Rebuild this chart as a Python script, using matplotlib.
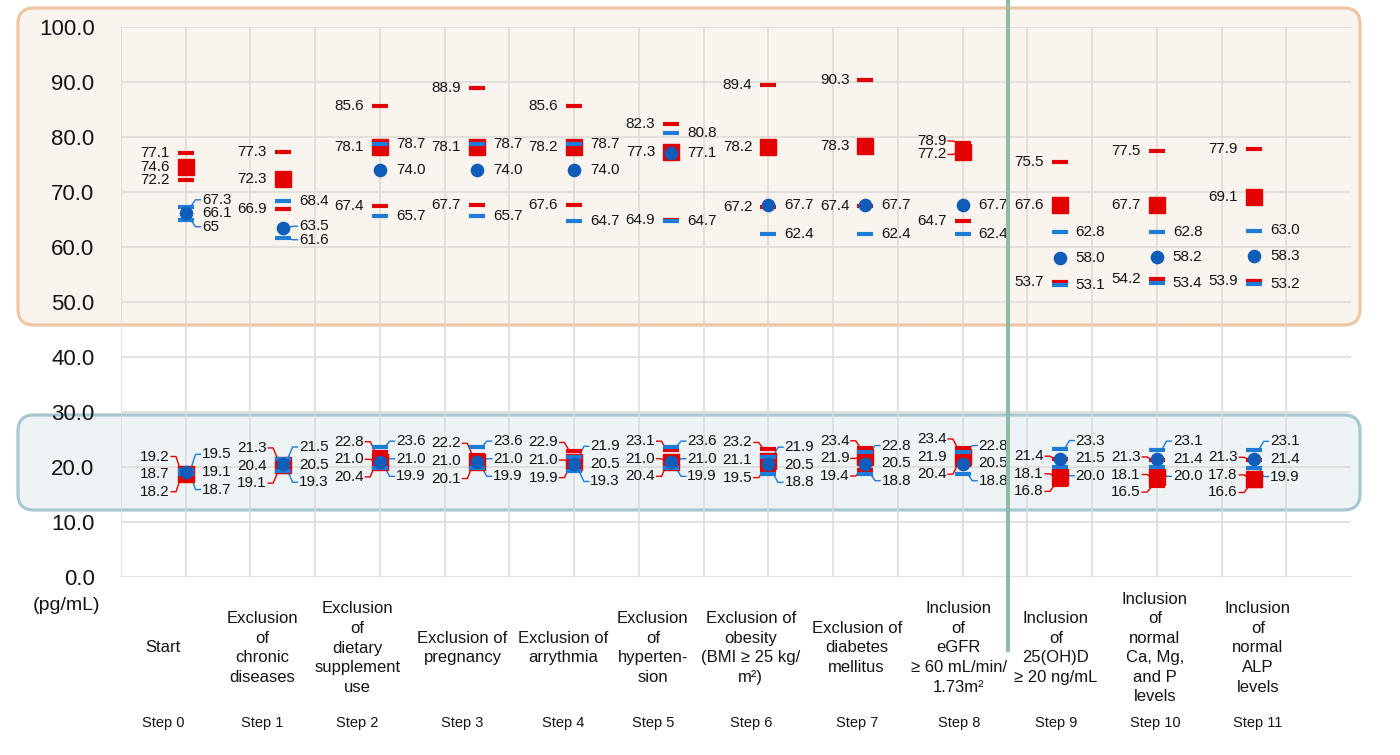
import numpy as np
import matplotlib
matplotlib.use("Agg")
import matplotlib.pyplot as plt
from matplotlib.patches import FancyBboxPatch
from matplotlib.lines import Line2D
from matplotlib.transforms import IdentityTransform, blended_transform_factory

plt.rcParams["font.family"] = ["Liberation Sans", "DejaVu Sans"]

# =========================
# data
# =========================
steps = [f"Step {i}" for i in range(12)]
categories = [
    "Start",
    "Exclusion\nof\nchronic\ndiseases",
    "Exclusion\nof\ndietary\nsupplement\nuse",
    "Exclusion of\npregnancy",
    "Exclusion of\narrythmia",
    "Exclusion\nof\nhyperten-\nsion",
    "Exclusion of\nobesity\n(BMI ≥ 25 kg/\nm²)",
    "Exclusion of\ndiabetes\nmellitus",
    "Inclusion\nof\neGFR\n≥ 60 mL/min/\n1.73m²",
    "Inclusion\nof\n25(OH)D\n≥ 20 ng/mL",
    "Inclusion\nof\nnormal\nCa, Mg,\nand P\nlevels",
    "Inclusion\nof\nnormal\nALP\nlevels",
]
nan = np.nan

# upper group
up_red_hi = [77.1, 77.3, 85.6, 88.9, 85.6, 82.3, 89.4, 90.3, 78.9, 75.5, 77.5, 77.9]
up_red_mid = [74.6, 72.3, 78.1, 78.1, 78.2, 77.3, 78.2, 78.3, 77.2, 67.6, 67.7, 69.1]
up_red_lo = [72.2, 66.9, 67.4, 67.7, 67.6, 64.9, 67.2, 67.4, 64.7, 53.7, 54.2, 53.9]
up_blue_hi = [67.3, 68.4, 78.7, 78.7, 78.7, 80.8, nan, nan, nan, 62.8, 62.8, 63.0]
up_blue_mid = [66.1, 63.5, 74.0, 74.0, 74.0, 77.1, 67.7, 67.7, 67.7, 58.0, 58.2, 58.3]
up_blue_lo = [65, 61.6, 65.7, 65.7, 64.7, 64.7, 62.4, 62.4, 62.4, 53.1, 53.4, 53.2]

# lower group
lo_red_hi = [19.2, 21.3, 22.8, 22.2, 22.9, 23.1, 23.2, 23.4, 23.4, 21.4, 21.3, 21.3]
lo_red_mid = [18.7, 20.4, 21.0, 21.0, 21.0, 21.0, 21.1, 21.9, 21.9, 18.1, 18.1, 17.8]
lo_red_lo = [18.2, 19.1, 20.4, 20.1, 19.9, 20.4, 19.5, 19.4, 20.4, 16.8, 16.5, 16.6]
lo_blue_hi = [19.5, 21.5, 23.6, 23.6, 21.9, 23.6, 21.9, 22.8, 22.8, 23.3, 23.1, 23.1]
lo_blue_mid = [19.1, 20.5, 21.0, 21.0, 20.5, 21.0, 20.5, 20.5, 20.5, 21.5, 21.4, 21.4]
lo_blue_lo = [18.7, 19.3, 19.9, 19.9, 19.3, 19.9, 18.8, 18.8, 18.8, 20.0, 20.0, 19.9]

# label shift of the category texts (x units)
label_shift = [-0.23, -0.21, -0.23, -0.15, -0.11, -0.19, -0.18, -0.09, -0.04, -0.04, -0.02, 0.04]

RED = "#E30000"
BLUE_DASH = "#1E7BD6"
BLUE_DOT = "#105CB9"
TXT = "#141414"

x = np.arange(len(steps))

# =========================
# figure / background boxes
# =========================
fig = plt.figure(figsize=(14, 7.55), dpi=100)

orange = FancyBboxPatch((18, 755 - 325), 1342, 317, boxstyle="round,pad=0,rounding_size=16",
                        transform=IdentityTransform(), facecolor="#F9F4EE",
                        edgecolor="#EEC6A2", linewidth=2.3, zorder=0)
blue = FancyBboxPatch((18, 755 - 510), 1342, 95, boxstyle="round,pad=0,rounding_size=16",
                      transform=IdentityTransform(), facecolor="#EEF3F6",
                      edgecolor="#A9C6D3", linewidth=2.3, zorder=0)
fig.patches.extend([orange, blue])

ax = fig.add_axes([121 / 1400, 1 - 577 / 755, 1230 / 1400, 550 / 755])
ax.set_zorder(1)
ax.set_facecolor("none")
ax.set_xlim(-2 / 3, 12)
ax.set_ylim(0, 100)
ax.set_xticks(np.arange(19) * 2 / 3 - 2 / 3)
ax.set_xticklabels([])
ax.set_yticks(np.arange(0, 101, 10))
ax.set_yticklabels([f"{v:.1f}" for v in np.arange(0, 101, 10)])
ax.tick_params(axis="both", length=0)
ax.tick_params(axis="y", pad=19, labelsize=16, labelcolor=TXT)
ax.grid(True, color="#DDDAD6", linewidth=1.1)
ax.set_axisbelow(True)
for s in ax.spines.values():
    s.set_visible(False)


# =========================
# markers
# =========================
def draw_group(hi_r, mid_r, lo_r, hi_b, mid_b, lo_b):
    ax.plot(x, hi_r, ls="none", marker="_", ms=11, mew=3, color=RED, zorder=3)
    ax.plot(x, lo_r, ls="none", marker="_", ms=11, mew=3, color=RED, zorder=3)
    ax.plot(x, mid_r, ls="none", marker="s", ms=11, color=RED, mec=RED, zorder=3)
    ax.plot(x, hi_b, ls="none", marker="_", ms=11, mew=3, color=BLUE_DASH, zorder=4)
    ax.plot(x, lo_b, ls="none", marker="_", ms=11, mew=3, color=BLUE_DASH, zorder=4)
    ax.plot(x, mid_b, ls="none", marker="o", ms=8.8, color=BLUE_DOT, mec=BLUE_DOT, zorder=4)


def fmt(v):
    return str(v) if isinstance(v, int) else f"{v:.1f}"


def spread(vals, gap):
    idx = [i for i, v in enumerate(vals) if not np.isnan(v)]
    order = sorted(idx, key=lambda i: -vals[i])
    pos = {i: float(vals[i]) for i in idx}
    for _ in range(300):
        moved = False
        for a, b in zip(order[:-1], order[1:]):
            d = pos[a] - pos[b]
            if d < gap - 1e-6:
                sh = (gap - d) / 2
                pos[a] += sh
                pos[b] -= sh
                moved = True
        if not moved:
            break
    return pos


def label_set(xi, vals, side, color, gap):
    pos = spread(vals, gap)
    sgn = -1 if side == "left" else 1
    for i, ylab in pos.items():
        v = vals[i]
        ax.text(xi + sgn * 0.165, ylab, fmt(v), ha="right" if sgn < 0 else "left",
                va="center", fontsize=11, color=TXT, zorder=6)
        if abs(ylab - v) > 0.25:
            ax.plot([xi + sgn * 0.15, xi + sgn * 0.1, xi + sgn * 0.05], [ylab, ylab, v],
                    color=color, lw=1, zorder=2.5)


draw_group(up_red_hi, up_red_mid, up_red_lo, up_blue_hi, up_blue_mid, up_blue_lo)
draw_group(lo_red_hi, lo_red_mid, lo_red_lo, lo_blue_hi, lo_blue_mid, lo_blue_lo)

for i in range(len(steps)):
    label_set(i, [up_red_hi[i], up_red_mid[i], up_red_lo[i]], "left", RED, 2.45)
    label_set(i, [up_blue_hi[i], up_blue_mid[i], up_blue_lo[i]], "right", BLUE_DASH, 2.45)
    label_set(i, [lo_red_hi[i], lo_red_mid[i], lo_red_lo[i]], "left", RED, 3.2)
    label_set(i, [lo_blue_hi[i], lo_blue_mid[i], lo_blue_lo[i]], "right", BLUE_DASH, 3.2)

# =========================
# category texts
# =========================
tr = blended_transform_factory(ax.transData, fig.transFigure)
for i in range(len(steps)):
    ax.text(i + label_shift[i], 1 - 648 / 755, categories[i], transform=tr, ha="center",
            va="center", multialignment="center", fontsize=12, linespacing=1.38,
            color=TXT, clip_on=False)
    ax.text(i + label_shift[i], 1 - 723 / 755, steps[i], transform=tr, ha="center",
            va="center", fontsize=10.5, color=TXT, clip_on=False)

fig.text(100 / 1400, 1 - 605 / 755, "(pg/mL)", ha="right", va="center", fontsize=14, color=TXT)

# green divider line
fig.lines.append(Line2D([1008, 1008], [755, 755 - 650], transform=IdentityTransform(),
                        color="#8DBBA4", linewidth=2.9, zorder=10))

fig.savefig("out.png", dpi=100)
